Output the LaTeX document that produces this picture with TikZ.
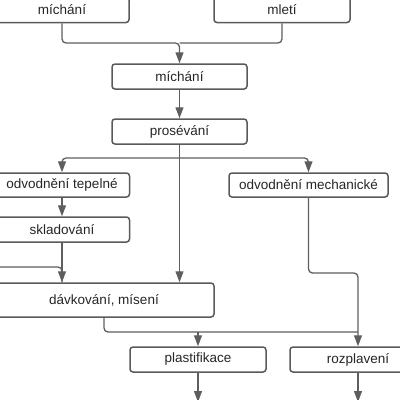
\documentclass[tikz,border=0pt]{standalone}
\usepackage{fontspec}
\setmainfont{Liberation Sans}
\usetikzlibrary{arrows.meta}
\definecolor{ln}{HTML}{5E5E5E}
\definecolor{bx}{HTML}{5A5A5A}
\definecolor{tx}{HTML}{262626}
\tikzset{
  box/.style={draw=bx, line width=1.5pt, rounded corners=3pt, fill=white, text=tx,
    font=\fontsize{13.5}{16}\selectfont, inner sep=0pt, minimum height=25pt},
  conn/.style={draw=ln, line width=1.3pt, rounded corners=4pt},
  arr/.style={conn, -{Triangle[length=11pt,width=8pt]}}
}
\begin{document}
\begin{tikzpicture}[x=1pt,y=-1pt]
\useasboundingbox (0,0) rectangle (400,400);
% nodes
\node[box, minimum width=134pt, minimum height=25.5pt] (mix1) at (62,9.75) {míchání};
\node[box, minimum width=136pt, minimum height=25.5pt] (mlet) at (282,9.75) {mletí};
\node[box, minimum width=135pt] (mix2) at (179.5,76.5) {míchání};
\node[box, minimum width=135pt] (pros) at (179.5,131.5) {prosévání};
\node[box, minimum width=135pt, minimum height=24pt] (odvT) at (62,185) {odvodnění tepelné};
\node[box, minimum width=159pt, minimum height=24pt] (odvM) at (308.5,185) {odvodnění mechanické};
\node[box, minimum width=135pt] (skl) at (62,229.5) {skladování};
\node[box, minimum width=220pt, minimum height=34pt] (dav) at (104,300) {dávkování, mísení};
\node[box, minimum width=136pt] (pla) at (198,359.5) {plastifikace};
\node[box, minimum width=136pt] (roz) at (358,359.5) {rozplavení};
% coordinates
\coordinate (j1) at (179.5,43);
\coordinate (j2) at (179.5,158);
\coordinate (lin) at (-3,267);
\coordinate (j4) at (358,273);
\coordinate (j5) at (198,332);
\coordinate (k) at (358,332);
\coordinate (outP) at (198,402);
\coordinate (outR) at (358,402);
% connectors
\draw[conn] (mlet.south) |- (j1);
\draw[arr] (mix1.south) |- (j1) -- (mix2.north);
\draw[arr] (mix2) -- (pros);
\draw[conn] (pros.south) -- (j2);
\draw[arr] (j2) -| (odvT.north);
\draw[arr] (j2) -| (odvM.north);
\draw[arr] (pros.south) -- (pros.south |- dav.north);
\draw[arr] (odvT) -- (skl);
\draw[conn] (lin) -| (skl.south |- dav.north);
\draw[arr] (skl.south) -- (skl.south |- dav.north);
\draw[arr] (odvM.south) |- (j4) -- (roz.north);
\draw[conn] (dav.south) |- (k);
\draw[arr] (j5) -- (pla.north);
\draw[arr] (pla.south) -- (outP);
\draw[arr] (roz.south) -- (outR);
\end{tikzpicture}
\end{document}
